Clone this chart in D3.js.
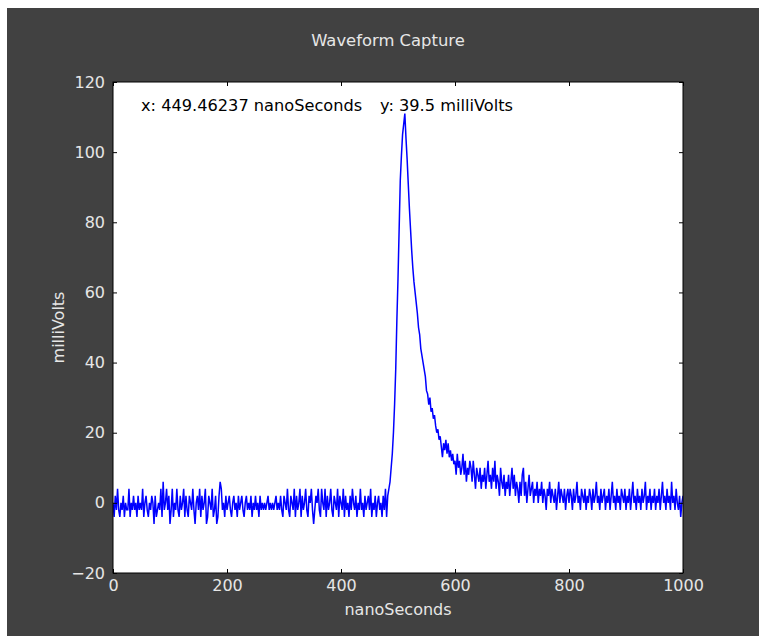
<!DOCTYPE html>
<html>
<head>
<meta charset="utf-8">
<script src="https://cdn.jsdelivr.net/npm/d3@7"></script>
<style>
  body { margin: 0; background: #fff; }
  text { font-family: "DejaVu Sans", sans-serif; }
</style>
</head>
<body>
<div class="chart"></div>
<script>
// sample spacing of the capture, in ns
const sampleStepNs = 2;

// 0 .. 480 ns : quiet baseline (mV)
const baselineMv = [
  0,-4,2,-2,4, -2,-4,0,-2,2, -4,0,-2,-2,4, -4,0,-2,2,-2, 0,-4,2,-2,0,
  -2,4,-4,0,2, -2,-4,0,-2,2, 0,-6,2,-4,-2, 0,-2,4,-4,6, -2,0,4,-2,2,
  -6,-2,4,-4,0, -2,4,-2,-4,2, -2,0,4,-4,2, -2,-4,2,0,-2, 4,-2,-6,0,2,
  -2,4,-4,2,-2, 0,4,-6,-4,2, 0,-2,4,-4,-2, 2,-6,-4,2,6, 4,-2,0,-4,2,
  -2,0,2,-2,-4, 0,2,-2,0,-4, 2,-2,0,2,-2, -4,0,2,-2,0, -2,2,-4,0,-2,
  2,-2,0,-4,2, -2,0,-2,0,-2, 0,2,-2,0,-2, 0,-2,0,2,-2, 0,-2,2,-2,-4,
  2,0,-2,4,-2, -4,2,0,-2,4, -4,2,-2,0,4, -4,2,-2,0,4, -2,-4,2,0,4,
  -2,-6,-2,2,0, 4,-2,-4,4,0, -2,4,-4,2,-2, 0,4,-2,-4,2, 0,-2,4,-4,2,
  0,-2,4,-4,2, -2,0,-4,2,-2, 4,0,-2,2,-4, 0,-2,4,-2,0, -4,2,-2,0,2,
  -2,4,-4,0,-2, 2,-4,0,2,-2, 0,-4,2,-2,4, -4
];

// 482 .. 598 ns : the pulse
const pulseMv = [
  2,4,6,10,14,20,28,38,52,64,
  78,92,99,105,108,111,104,98,91,84,
  78,72,67,63,60,57,54,50,48,44,
  42,40,38,36,32,31,28,30,26,27,
  24,25,22,20,21,18,19,16,13,17,
  15,18,14,17,13,15,12,14,11
];

// 600 .. 1000 ns : decaying tail
const tailMv = [
  12,8,14,10,12, 8,10,14,8,12, 6,10,8,12,10, 6,12,8,4,10, 8,6,10,4,8,
  6,10,4,8,12, 6,8,4,10,6, 12,4,8,6,2, 10,6,4,8,2, 6,4,8,2,6,
  10,4,8,2,6, 4,0,6,2,8, 10,2,6,0,4, 8,2,4,6,0, 4,2,6,0,4,
  2,6,0,4,2, -2,4,2,6,0, 4,2,0,4,-2, 2,6,0,4,2, 0,4,-2,2,4,
  0,4,2,-2,4, 0,2,6,0,2, -2,4,2,0,4, -2,2,0,4,2, -2,4,0,2,6,
  0,2,-2,4,0, 2,4,-2,2,0, 4,-2,2,6,0, 2,-2,4,0,2, -2,4,2,0,4,
  -2,2,0,4,-2, 2,6,0,2,-2, 4,0,2,-2,4, 0,2,6,-2,2, 0,4,-2,2,0,
  4,-2,2,0,4, -2,2,6,0,2, -2,4,0,2,-2, 6,0,2,-2,4, 0,-2,2,-4,0,
  2
];

const xTicks = [0, 200, 400, 600, 800, 1000];
const yTicks = [-20, 0, 20, 40, 60, 80, 100, 120];

const title = "Waveform Capture";
const cursorX = "x: 449.46237 nanoSeconds";
const cursorY = "y: 39.5 milliVolts";

const samples = baselineMv.concat(pulseMv, tailMv)
  .map((v, i) => ({ t: i * sampleStepNs, v: v }));

const W = 759, H = 636;
const margin = { top: 82, right: 76, bottom: 63, left: 113 },
  width = W - margin.left - margin.right,
  height = H - margin.top - margin.bottom;

const svg = d3.select(".chart").append("svg")
  .attr("width", W)
  .attr("height", H);

// dark figure background
svg.append("rect")
  .attr("x", 7).attr("y", 8)
  .attr("width", W - 7).attr("height", H - 8)
  .attr("fill", "#414141");

svg.append("text")
  .attr("x", 388).attr("y", 46)
  .attr("text-anchor", "middle")
  .attr("fill", "#e6e6e6")
  .style("font-size", "16.4px")
  .text(title);

const g = svg.append("g")
  .attr("transform", `translate(${margin.left},${margin.top})`);

g.append("rect")
  .attr("width", width).attr("height", height)
  .attr("fill", "#fff");

const x = d3.scaleLinear().domain([0, 1000]).range([0, width]);
const y = d3.scaleLinear().domain([-20, 120]).range([height, 0]);

g.append("clipPath").attr("id", "clip")
  .append("rect").attr("width", width).attr("height", height);

g.append("path")
  .datum(samples)
  .attr("clip-path", "url(#clip)")
  .attr("fill", "none")
  .attr("stroke", "#0000ff")
  .attr("stroke-width", 1.5)
  .attr("d", d3.line().x(d => x(d.t)).y(d => y(d.v)));

// axes, ticks pointing inward
const styleAxis = (sel) => {
  sel.select(".domain").remove();
  sel.selectAll("line").attr("stroke", "#000");
  sel.selectAll("text").attr("fill", "#e6e6e6").style("font-size", "16px");
};

g.append("g")
  .attr("transform", `translate(0,${height})`)
  .call(d3.axisBottom(x).tickValues(xTicks).tickFormat(d3.format("d"))
    .tickSizeInner(-4).tickSizeOuter(0).tickPadding(7))
  .call(styleAxis);

g.append("g")
  .call(d3.axisTop(x).tickValues(xTicks).tickSizeInner(-4).tickSizeOuter(0).tickFormat(""))
  .call(styleAxis);

g.append("g")
  .call(d3.axisLeft(y).tickValues(yTicks).tickSizeInner(-4).tickSizeOuter(0).tickPadding(8))
  .call(styleAxis);

g.append("g")
  .attr("transform", `translate(${width},0)`)
  .call(d3.axisRight(y).tickValues(yTicks).tickSizeInner(-4).tickSizeOuter(0).tickFormat(""))
  .call(styleAxis);

// frame
g.append("rect")
  .attr("width", width).attr("height", height)
  .attr("fill", "none")
  .attr("stroke", "#000")
  .attr("stroke-width", 1);

// cursor readout
svg.append("text")
  .attr("x", 141).attr("y", 111)
  .attr("fill", "#000")
  .style("font-size", "16.2px")
  .text(cursorX);

svg.append("text")
  .attr("x", 380).attr("y", 111)
  .attr("fill", "#000")
  .style("font-size", "16.2px")
  .text(cursorY);

svg.append("text")
  .attr("x", margin.left + width / 2).attr("y", 615)
  .attr("text-anchor", "middle")
  .attr("fill", "#e6e6e6")
  .style("font-size", "16px")
  .text("nanoSeconds");

svg.append("text")
  .attr("transform", `translate(64,${margin.top + height / 2}) rotate(-90)`)
  .attr("text-anchor", "middle")
  .attr("fill", "#e6e6e6")
  .style("font-size", "16px")
  .text("milliVolts");
</script>
</body>
</html>
